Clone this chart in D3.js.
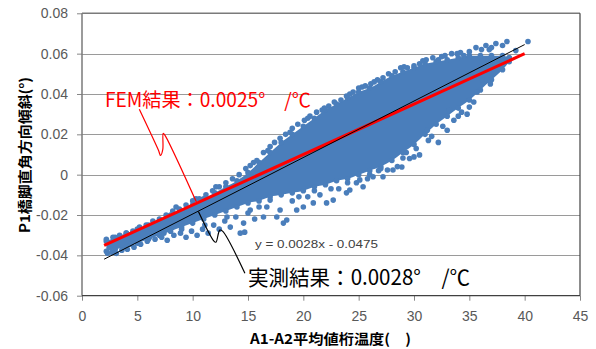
<!DOCTYPE html>
<html><head><meta charset="utf-8">
<script src="https://cdn.jsdelivr.net/npm/d3@7"></script>
<style>body{margin:0;background:#fff}svg{display:block}</style>
</head><body>
<svg id="c" width="596" height="349"></svg>
<script>
// ---- data ----
const xTicks = [0,5,10,15,20,25,30,35,40,45];
const xTickLabels = ["0","5","10","15","20","25","30","35","40","45"];
const yTicks = [-0.06,-0.04,-0.02,0,0.02,0.04,0.06,0.08];
const yTickLabels = ["-0.06","-0.04","-0.02","0","0.02","0.04","0.06","0.08"];

// dense core of the measured cloud (x, lower, upper)
const coreX    = [2.2,3,4,5,6,7,8,9,10,11,12,13,14,15,16,17,18,19,20,21,22,23,24,25,26,27,28,29,30,31,32,33,34,35,36,37,38,38.6];
const coreLow  = [-0.038,-0.037,-0.036,-0.034,-0.032,-0.030,-0.028,-0.026,-0.024,-0.022,-0.020,-0.018,-0.016,-0.014,-0.013,-0.011,-0.010,-0.009,-0.008,-0.006,-0.005,-0.003,-0.002,0.000,0.002,0.004,0.007,0.011,0.015,0.020,0.025,0.029,0.033,0.037,0.042,0.047,0.052,0.056];
const coreHigh = [-0.033,-0.031,-0.029,-0.027,-0.025,-0.023,-0.020,-0.018,-0.015,-0.012,-0.009,-0.006,-0.003,0.001,0.006,0.011,0.016,0.020,0.024,0.028,0.032,0.035,0.038,0.041,0.043,0.046,0.049,0.051,0.053,0.055,0.056,0.057,0.058,0.059,0.059,0.059,0.059,0.058];

// individual measured points at the edges of the cloud
const upperPts = [[2.2,-0.032],[2.8,-0.031],[3.4,-0.030],[4.0,-0.029],[4.6,-0.028],[5.2,-0.026],[5.8,-0.025],[6.4,-0.023],[7.0,-0.022],[7.6,-0.020],[8.2,-0.018],[8.8,-0.017],[9.4,-0.015],[10.0,-0.013],[10.6,-0.012],[11.2,-0.010],[11.8,-0.008],[12.4,-0.006],[13.0,-0.004],[13.6,-0.002],[14.2,0.000],[14.8,0.003],[15.2,0.0045],[15.8,0.007],[16.4,0.011],[17.0,0.014],[17.4,0.016],[17.9,0.018],[18.4,0.020],[19.0,0.023],[19.5,0.025],[20.1,0.027],[20.6,0.029],[21.2,0.031],[21.7,0.032],[22.3,0.034],[22.8,0.036],[23.4,0.037],[23.9,0.039],[24.5,0.041],[25.0,0.043],[25.6,0.044],[26.1,0.045],[26.7,0.047],[27.2,0.048],[27.7,0.050],[28.3,0.051],[28.8,0.053],[29.4,0.053],[30.0,0.054],[30.5,0.055],[31.1,0.057],[31.7,0.058],[32.2,0.057],[32.8,0.059],[33.4,0.060],[33.9,0.060],[34.5,0.059],[35.0,0.061],[35.6,0.063],[36.1,0.062],[36.8,0.062],[37.4,0.065],[38.0,0.064],[38.4,0.066],[40.3,0.066],
  [15.5,0.006],[16.8,0.012],[18.8,0.021],[20.4,0.028],[21.9,0.033],[24.2,0.040],[25.3,0.0435],[26.4,0.046],[29.1,0.0535],[30.8,0.0565],[32.5,0.0585],[34.2,0.0605],[36.5,0.064],[37.0,0.063],[12.1,-0.006],[10.3,-0.012],[8.5,-0.016]];
const lowerPts = [[2.3,-0.039],[2.7,-0.0385],[3.1,-0.039],[3.6,-0.0375],[4.1,-0.037],[4.7,-0.036],[5.3,-0.0345],[5.9,-0.033],[6.6,-0.032],[7.2,-0.031],[7.7,-0.0325],[8.3,-0.030],[8.9,-0.029],[9.4,-0.031],[9.9,-0.028],[10.4,-0.030],[10.9,-0.027],[11.4,-0.029],[11.9,-0.025],[12.4,-0.027],[12.9,-0.023],[13.4,-0.026],[13.9,-0.021],[14.3,-0.029],[14.7,-0.0285],[14.6,-0.024],[15.2,-0.0175],[15.6,-0.022],[16.4,-0.021],[16.0,-0.016],[17.0,-0.0126],[17.6,-0.021],[17.9,-0.0175],[18.2,-0.024],[18.5,-0.0225],[19.0,-0.013],[19.4,-0.0175],[20.0,-0.016],[20.4,-0.011],[20.9,-0.014],[21.5,-0.010],[22.1,-0.014],[22.7,-0.0126],[23.2,-0.007],[23.9,-0.009],[24.2,-0.0076],[24.8,-0.004],[25.4,-0.006],[25.1,-0.0026],[26.0,0.000],[26.3,-0.001],[26.8,0.002],[27.2,-0.001],[27.6,0.0023],[28.1,0.0023],[28.5,0.004],[28.9,0.0038],[29.0,0.0083],[29.6,0.008],[30.0,0.0088],[30.5,0.0098],[31.3,0.017],[32.2,0.016],[31.2,0.022],[33.0,0.022],[33.2,0.032],[33.6,0.027],[34.3,0.031],[34.8,0.030],[35.0,0.0335],[35.7,0.041],[36.2,0.047],[36.6,0.047],[37.5,0.053],[37.8,0.057],[38.0,0.056],[38.6,0.058],[39.2,0.0615],
  [19.6,-0.011],[21.0,-0.008],[22.5,-0.007],[24.0,-0.004],[25.8,-0.002],[27.0,0.003],[29.3,0.011],[30.2,0.013],[31.6,0.019],[32.6,0.024],[34.0,0.029],[35.4,0.036],[36.9,0.045],[16.7,-0.016],[15.0,-0.019],[13.1,-0.021],[11.1,-0.025],[9.0,-0.027],[7.4,-0.029],[6.1,-0.031],[4.4,-0.0345]];

// lines
const femX = [2,40], femY = [-0.035,0.060];          // FEM result, slope 0.0025
const trendX = [2,40], trendY = [-0.0419,0.0645];    // y = 0.0028x - 0.0475

// callout leader lines (data units)
const femLeader = [[5.18,0.0324],[6.9,0.0122],[7.1,0.0095],[7.3,0.0125],[7.34,0.0205],[7.5,0.0195],[10.34,-0.0136]];
const obsLeader = [[14.72,-0.0489],[12.7,-0.0280],[12.45,-0.0275],[12.1,-0.0335],[11.9,-0.0328],[10.52,-0.0183]];

// ---- drawing ----
const svg = d3.select("#c");
const x = d3.scaleLinear().domain([0,45]).range([82,580]);
const y = d3.scaleLinear().domain([-0.06,0.08]).range([295.7,13.3]);
const blue = "#4a7ebb";

// gridlines
svg.append("g").selectAll("line").data(yTicks.filter(v=>v>-0.06 && v<0.08)).join("line")
  .attr("x1",x(0)).attr("x2",x(45)).attr("y1",d=>Math.round(y(d))+0.5).attr("y2",d=>Math.round(y(d))+0.5)
  .attr("stroke","#9a9a9a").attr("stroke-width",1);

// axes
const yAxis = d3.axisLeft(y).tickValues(yTicks).tickFormat((d,i)=>yTickLabels[i]).tickSize(5).tickPadding(9);
const gy = svg.append("g").attr("transform",`translate(${x(0)},0)`).call(yAxis);
const xAxis = d3.axisBottom(x).tickValues(xTicks).tickFormat((d,i)=>xTickLabels[i]).tickSize(5).tickPadding(10);
const gx = svg.append("g").attr("transform",`translate(0,${y(-0.06)})`).call(xAxis);
[gx,gy].forEach(g=>{
  g.select(".domain").remove();
  g.selectAll("line").attr("stroke","#868686");
  g.selectAll("text").attr("fill","#595959").style("font-family","'Liberation Sans',Arial,sans-serif").style("font-size","14px");
});

// plot border
svg.append("line").attr("x1",x(0)).attr("x2",x(45)).attr("y1",y(0.08)).attr("y2",y(0.08)).attr("stroke","#7a7a7a").attr("stroke-width",1.5);
svg.append("line").attr("x1",x(0)).attr("x2",x(0)).attr("y1",y(0.08)).attr("y2",y(-0.06)).attr("stroke","#7a7a7a").attr("stroke-width",1.5);
svg.append("line").attr("x1",x(0)).attr("x2",x(45)).attr("y1",y(-0.06)).attr("y2",y(-0.06)).attr("stroke","#404040").attr("stroke-width",1.2);
svg.append("line").attr("x1",x(45)).attr("x2",x(45)).attr("y1",y(0.08)).attr("y2",y(-0.06)).attr("stroke","#404040").attr("stroke-width",1.2);

// dense core
const core = coreX.map((d,i)=>({x:d,lo:coreLow[i],hi:coreHigh[i]}));
svg.append("path").datum(core)
  .attr("d", d3.area().x(d=>x(d.x)).y0(d=>y(d.lo)).y1(d=>y(d.hi)).curve(d3.curveMonotoneX))
  .attr("fill",blue);
// core edge points
svg.append("g").selectAll("circle").data(core.flatMap(d=>[[d.x,d.lo],[d.x,d.hi]])).join("circle")
  .attr("cx",d=>x(d[0])).attr("cy",d=>y(d[1])).attr("r",2.8).attr("fill",blue);
// measured edge points
svg.append("g").selectAll("circle").data(upperPts.concat(lowerPts)).join("circle")
  .attr("cx",d=>x(d[0])).attr("cy",d=>y(d[1])).attr("r",2.8).attr("fill",blue);

// FEM line
svg.append("line").attr("x1",x(femX[0])).attr("y1",y(femY[0])).attr("x2",x(femX[1])).attr("y2",y(femY[1]))
  .attr("stroke","#ff0000").attr("stroke-width",3);
// trend line
svg.append("line").attr("x1",x(trendX[0])).attr("y1",y(trendY[0])).attr("x2",x(trendX[1])).attr("y2",y(trendY[1]))
  .attr("stroke","#000").attr("stroke-width",1);

// leaders
const ln = d3.line().x(d=>x(d[0])).y(d=>y(d[1])).curve(d3.curveCatmullRom.alpha(0.5));
svg.append("path").attr("d",ln(femLeader)).attr("fill","none").attr("stroke","#ff0000").attr("stroke-width",1.2);
svg.append("path").attr("d",ln(obsLeader)).attr("fill","none").attr("stroke","#000").attr("stroke-width",1.2);

const jp = "'Noto Sans CJK JP','Noto Sans',sans-serif";
// texts
svg.append("text").attr("x",105).attr("y",107).attr("textLength",206).attr("lengthAdjust","spacingAndGlyphs")
  .style("font-family",jp).style("font-size","19.5px").attr("fill","#ff0000").text("FEM結果：0.0025°　/℃");
svg.append("text").attr("x",248).attr("y",285).attr("textLength",222).attr("lengthAdjust","spacingAndGlyphs")
  .style("font-family",jp).style("font-size","21px").attr("fill","#000").text("実測結果：0.0028°　/℃");
svg.append("text").attr("x",255).attr("y",248).attr("textLength",123).attr("lengthAdjust","spacingAndGlyphs")
  .style("font-family","'Liberation Sans',Arial,sans-serif").style("font-size","11.5px").attr("fill","#404040").text("y = 0.0028x - 0.0475");

// axis titles
svg.append("text").attr("transform","translate(30,155) rotate(-90)").attr("text-anchor","middle")
  .attr("textLength",156).attr("lengthAdjust","spacingAndGlyphs")
  .style("font-family",jp).style("font-weight","bold").style("font-size","14px").attr("fill","#000").text("P1橋脚直角方向傾斜(°)");
svg.append("text").attr("x",250).attr("y",344).attr("textLength",161).attr("lengthAdjust","spacingAndGlyphs")
  .style("font-family",jp).style("font-weight","bold").style("font-size","14px").attr("fill","#000").text("A1-A2平均値桁温度(　)");
</script>
</body></html>
